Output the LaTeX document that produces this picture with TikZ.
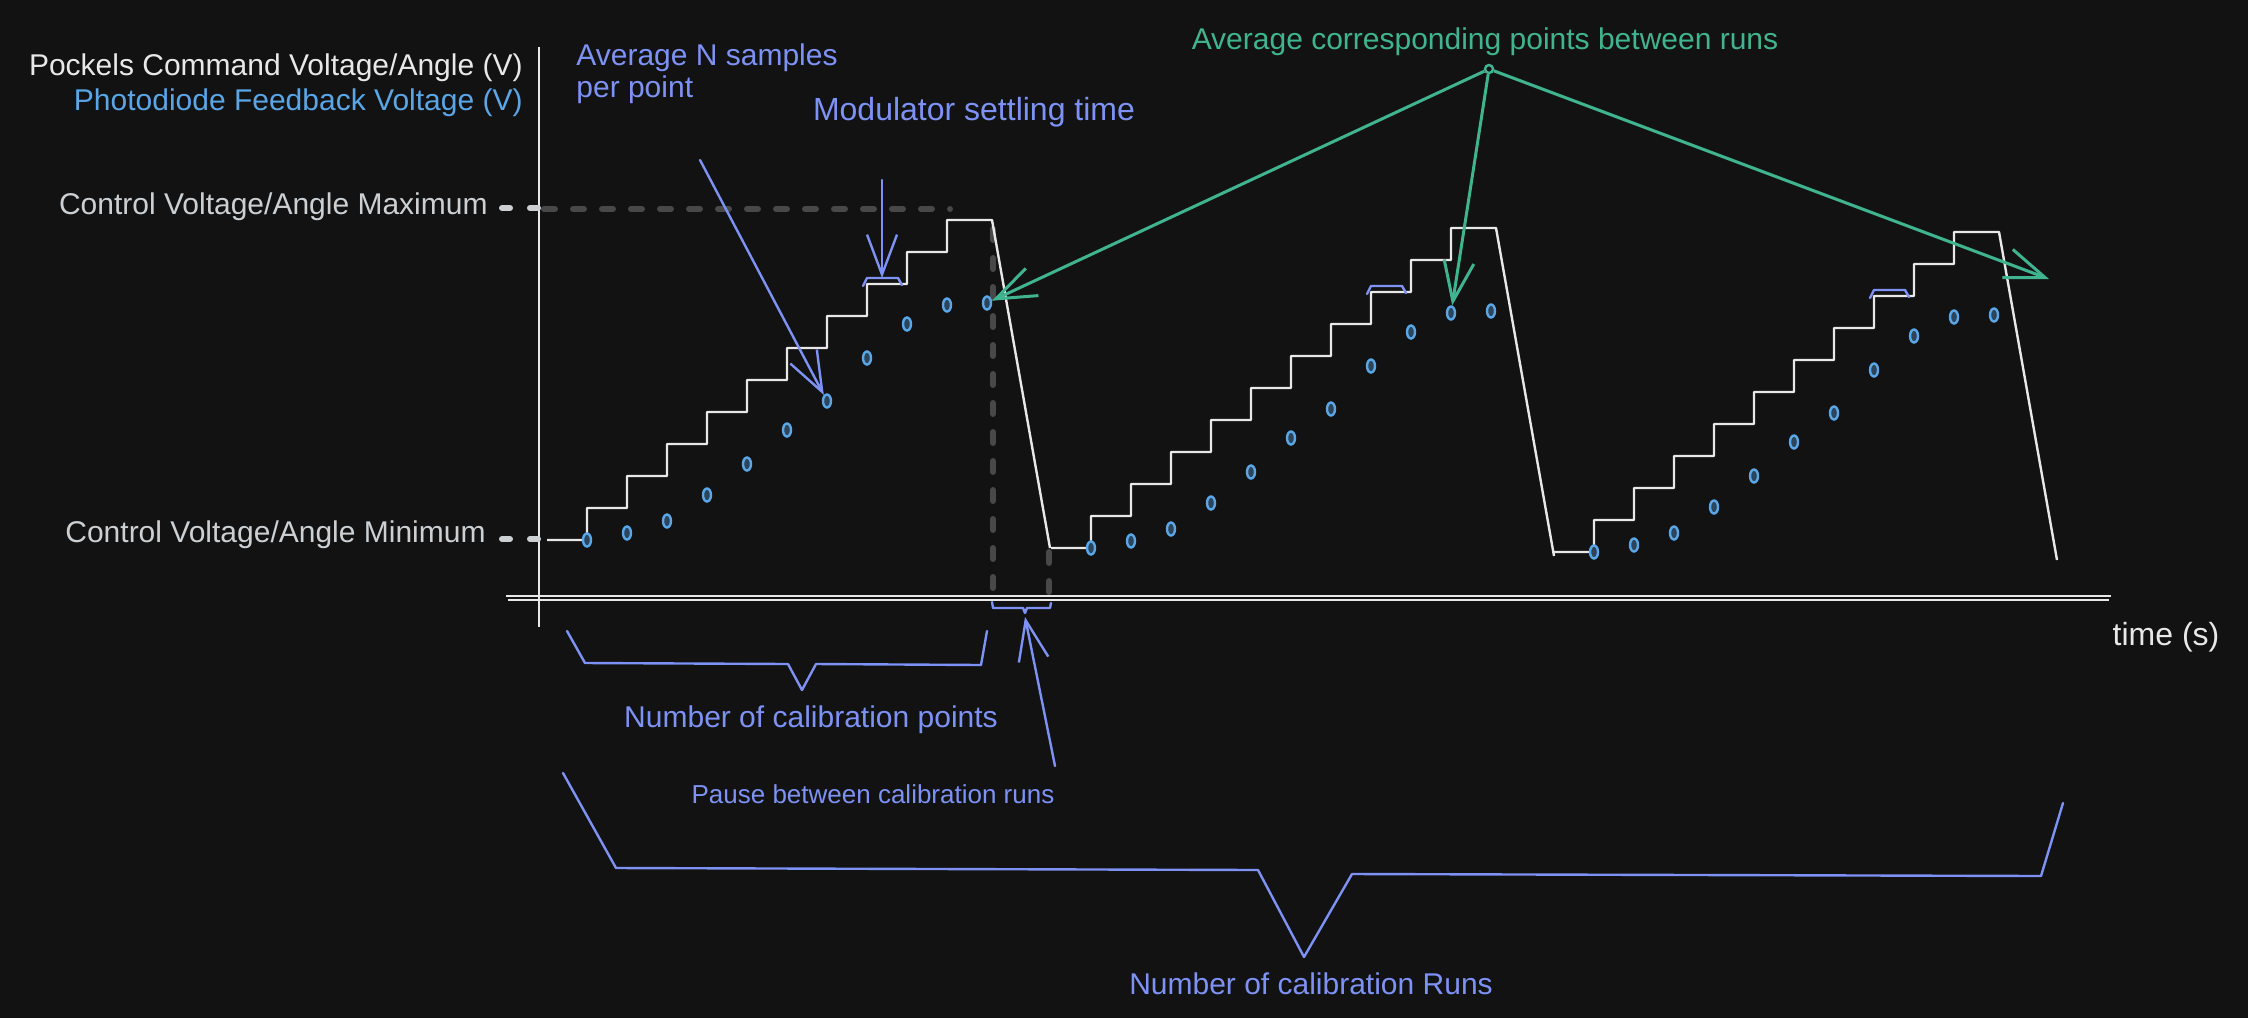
\documentclass[tikz,border=0pt]{standalone}
\usepackage{fontspec}
\setmainfont{Liberation Sans}
\usetikzlibrary{arrows.meta,shapes.geometric}

\definecolor{fondo}{HTML}{121212}
\definecolor{blanco}{HTML}{E8E8E8}
\definecolor{grisclaro}{HTML}{CDD0D3}
\definecolor{grisoscuro}{HTML}{484848}
\definecolor{azul}{HTML}{7D92F4}
\definecolor{azulclaro}{HTML}{5AA6E6}
\definecolor{verde}{HTML}{40B48E}

\begin{document}
\begin{tikzpicture}[x=0.5pt,y=-0.5pt,
    every node/.style={inner sep=0pt},
    txt/.style={font=\fontsize{15}{16}\selectfont},
    escalon/.style={draw=blanco, line width=1.2pt, line join=round},
    eje/.style={draw=blanco, line width=1pt},
    guia/.style={draw=grisoscuro, line width=3pt, line cap=round, dash pattern=on 5.5pt off 9pt},
    marca/.style={draw=grisclaro, line width=3pt, line cap=round, dash pattern=on 4pt off 10pt},
    anota/.style={draw=azul, line width=1.2pt, line join=round, line cap=round},
    flecha/.style={-{Straight Barb[length=20pt,width=15pt]}},
    punto/.style={ellipse, draw=azulclaro, fill=azulclaro!35!fondo, line width=1.2pt, minimum width=4pt, minimum height=6.5pt},
    verdepunto/.style={circle, draw=verde, line width=1.2pt, minimum size=4pt}]

    \useasboundingbox (0,0) rectangle (2248,1018);
    \fill[fondo] (0,0) rectangle (2248,1018);

    % Ejes
    \draw[eje] (539,47) -- (539,627);
    \draw[eje] (506,596) -- (2111,596);
    \draw[eje] (508,600) -- (2109,600);

    % Etiquetas de los ejes
    \node[txt, text=blanco, anchor=base east] (ejey) at (523,75) {Pockels Command Voltage/Angle (V)};
    \node[txt, text=azulclaro, anchor=base east] (ejeyfb) at (523,110) {Photodiode Feedback Voltage (V)};
    \node[txt, text=blanco, font=\fontsize{16}{18}\selectfont, anchor=base] (tiempo) at (2166,645) {time (s)};

    % Niveles maximo y minimo
    \node[txt, text=grisclaro, anchor=base east] (vmax) at (488,214) {Control Voltage/Angle Maximum};
    \node[txt, text=grisclaro, anchor=base east] (vmin) at (486,542) {Control Voltage/Angle Minimum};
    \draw[marca] (502,208) -- (538,208);
    \draw[marca] (502,539) -- (538,539);
    \draw[guia] (544,209) -- (950,209);

    % Pausa entre corridas
    \draw[guia] (993,229) -- (993,593);
    \draw[guia] (1049,552) -- (1049,593);

    % Corridas: escalones y puntos del fotodiodo
    \foreach \xs/\ys [count=\r] in {547/540,1051/548,1554/552}{
        \draw[escalon] (\xs,\ys) \foreach \j in {1,...,10}{ -- ++(40,0) -- ++(0,-32)} -- ++(45,0) -- ++(58,328);
        \foreach \o [count=\k from 0] in {0,7,19,45,76,110,139,182,216,235,237}
            \node[punto] (p\r-\k) at ({\xs+40+40*\k},{\ys-\o}) {};
        % Tiempo de asentamiento
        \draw[anota] (\xs+316,\ys-254) -- (\xs+320,\ys-262) -- (\xs+351,\ys-262) -- (\xs+355,\ys-255);
        \coordinate (asent\r) at (\xs+335,\ys-262);
    }

    % Anotaciones azules
    \node[txt, text=azul, align=left, anchor=north west] (nmuestras) at (576,43) {Average N samples\\per point};
    \coordinate (nm) at (700,160);
    \draw[anota, flecha] (nm) -- (p1-6);

    \node[txt, text=azul, font=\fontsize{16}{18}\selectfont, anchor=base] (asentamiento) at (974,120) {Modulator settling time};
    \coordinate (ms) at (882,180);
    \draw[anota, flecha] (ms) -- (asent1);

    % Llave de puntos de calibracion
    \draw[anota] (567,631) -- (585,663) -- (788,664) -- (802,690) -- (816,664) -- (981,665) -- (987,631);
    \node[txt, text=azul, anchor=base] (npuntos) at (811,727) {Number of calibration points};

    % Pausa
    \draw[anota] (992,602) -- (993,608) -- (1023,608) -- (1025,613) -- (1027,608) -- (1050,608) -- (1051,603);
    \coordinate (pa) at (1055,766);
    \coordinate (pb) at (1025,617);
    \draw[anota, flecha] (pa) -- (pb);
    \node[txt, text=azul, font=\fontsize{13}{15}\selectfont, anchor=base] (pausa) at (873,803) {Pause between calibration runs};

    % Llave de corridas
    \draw[anota] (563,773) -- (616,868) -- (1258,870) -- (1304,957) -- (1352,874) -- (2041,876) -- (2063,803);
    \node[txt, text=azul, anchor=base] (ncorridas) at (1311,994) {Number of calibration Runs};

    % Promedio entre corridas
    \node[txt, text=verde, anchor=base] (promedio) at (1485,49) {Average corresponding points between runs};
    \node[verdepunto] (prom) at (1489,69) {};
    \coordinate (fin3) at (2049,279);
    \draw[verde, line width=1.5pt, flecha] (prom) -- (p1-10);
    \draw[verde, line width=1.5pt, flecha] (prom) -- (p2-9);
    \draw[verde, line width=1.5pt, flecha] (prom) -- (fin3);

\end{tikzpicture}
\end{document}
